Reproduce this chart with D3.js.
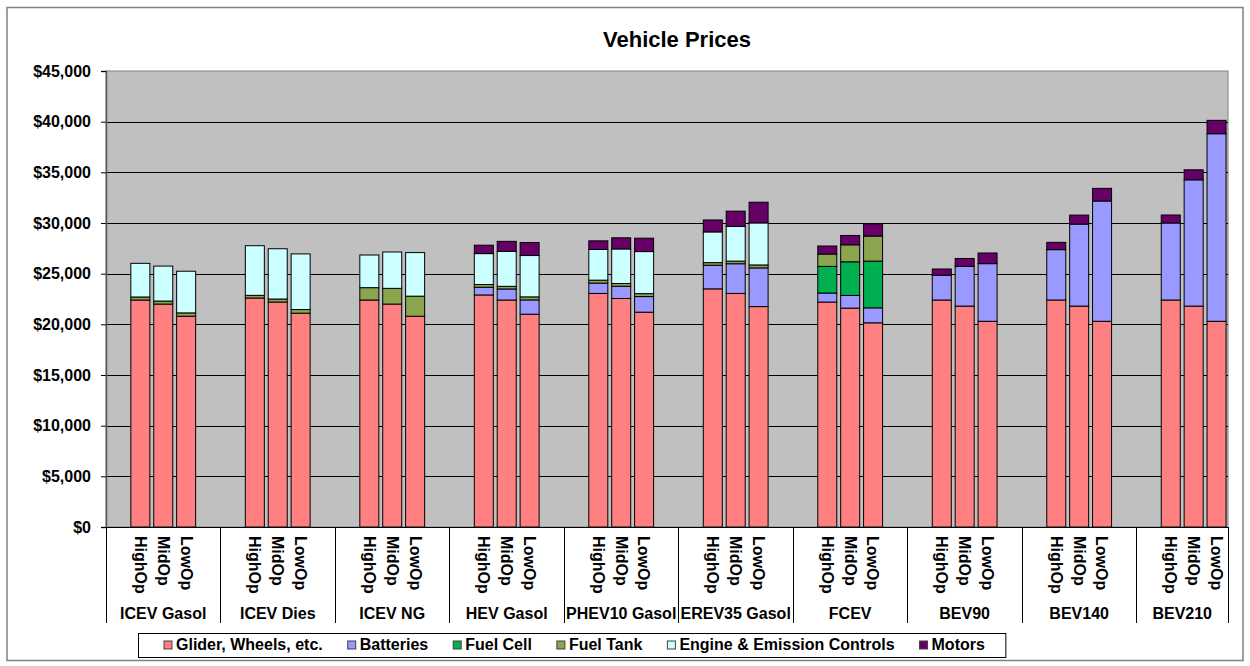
<!DOCTYPE html>
<html>
<head>
<meta charset="utf-8">
<script src="https://cdn.jsdelivr.net/npm/d3@7"></script>
<style>
  body { margin: 0; background: #fff; }
  svg { display: block; font-family: Arial, "Liberation Sans", sans-serif; }
</style>
</head>
<body>
<svg id="chart" width="1250" height="666"></svg>
<script>
// categories
var groups = ["ICEV Gasol", "ICEV Dies", "ICEV NG", "HEV Gasol", "PHEV10 Gasol",
  "EREV35 Gasol", "FCEV", "BEV90", "BEV140", "BEV210"];
var scenarios = ["HighOp", "MidOp", "LowOp"];
var components = ["Glider, Wheels, etc.", "Batteries", "Fuel Cell", "Fuel Tank",
  "Engine & Emission Controls", "Motors"];
var colors = ["#ff8080", "#9999ff", "#00b050", "#8ba54e", "#ccffff", "#660066"];

// values, one per bar (group by group, HighOp / MidOp / LowOp)
var glider = [22400, 22000, 20800, 22600, 22200, 21100, 22400, 22000, 20800,
  22900, 22400, 21000, 23050, 22550, 21200, 23500, 23050, 21750,
  22200, 21600, 20150, 22400, 21800, 20300, 22400, 21800, 20300, 22400, 21800, 20300];
var batteries = [0, 0, 0, 0, 0, 0, 0, 0, 0,
  760, 1090, 1410, 1020, 1210, 1540, 2330, 2930, 3820,
  890, 1250, 1480, 2440, 3920, 5690, 4970, 8090, 11870, 7600, 12460, 18510];
var fuelCell = [0, 0, 0, 0, 0, 0, 0, 0, 0,
  0, 0, 0, 0, 0, 0, 0, 0, 0,
  2630, 3320, 4610, 0, 0, 0, 0, 0, 0, 0, 0, 0];
var fuelTank = [300, 300, 330, 260, 300, 360, 1220, 1550, 1980,
  270, 260, 300, 290, 270, 290, 260, 260, 290,
  1220, 1680, 2470, 0, 0, 0, 0, 0, 0, 0, 0, 0];
var engine = [3320, 3450, 4110, 4900, 4960, 5490, 3220, 3590, 4300,
  3050, 3450, 4080, 3030, 3410, 4150, 3030, 3420, 4150,
  0, 0, 0, 0, 0, 0, 0, 0, 0, 0, 0, 0];
var motors = [0, 0, 0, 0, 0, 0, 0, 0, 0,
  830, 990, 1280, 850, 1100, 1320, 1180, 1510, 2040,
  790, 920, 1210, 620, 780, 1050, 720, 890, 1250, 790, 990, 1320];
var yTicks = [0, 5000, 10000, 15000, 20000, 25000, 30000, 35000, 40000, 45000];

var series = [glider, batteries, fuelCell, fuelTank, engine, motors];

// rows for the stack
var rows = [];
groups.forEach(function (g, gi) {
  scenarios.forEach(function (s, si) {
    var r = { group: g, scenario: s, key: g + "|" + s };
    components.forEach(function (c, ci) { r[c] = series[ci][gi * 3 + si]; });
    rows.push(r);
  });
});

// slots: blank, H, M, L, blank for each group (no trailing blank on the last one)
var slots = [];
groups.forEach(function (g, gi) {
  slots.push("_a" + gi);
  scenarios.forEach(function (s) { slots.push(g + "|" + s); });
  if (gi < groups.length - 1) slots.push("_b" + gi);
});

var plotL = 106, plotR = 1228, plotT = 71, plotB = 527;

var svg = d3.select("#chart");

var x = d3.scaleBand().domain(slots).range([plotL, plotR])
  .paddingInner(0.17).paddingOuter(0.085);
var y = d3.scaleLinear().domain([0, 45000]).range([plotB, plotT]);
var color = d3.scaleOrdinal().domain(components).range(colors);

// chart border
svg.append("rect")
  .attr("x", 7).attr("y", 7.5).attr("width", 1236).attr("height", 653)
  .attr("fill", "#fff").attr("stroke", "#808080").attr("stroke-width", 1.5);

// title
svg.append("text")
  .attr("x", 677).attr("y", 47)
  .attr("text-anchor", "middle")
  .style("font-size", "22px").style("font-weight", "bold")
  .text("Vehicle Prices");

// plot area
svg.append("rect")
  .attr("x", plotL).attr("y", plotT).attr("width", plotR - plotL).attr("height", plotB - plotT)
  .attr("fill", "#c0c0c0").attr("stroke", "#808080").attr("stroke-width", 1);

// gridlines
svg.append("g")
  .selectAll("line")
  .data(yTicks.filter(function (d) { return d > 0 && d < 45000; }))
  .enter().append("line")
    .attr("x1", plotL).attr("x2", plotR)
    .attr("y1", function (d) { return Math.round(y(d)) + 0.5; })
    .attr("y2", function (d) { return Math.round(y(d)) + 0.5; })
    .attr("stroke", "#000").attr("stroke-width", 1);

// stacked bars
var stack = d3.stack().keys(components)(rows);
svg.append("g")
  .selectAll("g")
  .data(stack)
  .enter().append("g")
    .attr("fill", function (d) { return color(d.key); })
  .selectAll("rect")
  .data(function (d) { return d.filter(function (p) { return p[1] > p[0]; }); })
  .enter().append("rect")
    .attr("x", function (d) { return x(d.data.key); })
    .attr("width", x.bandwidth())
    .attr("y", function (d) { return y(d[1]); })
    .attr("height", function (d) { return y(d[0]) - y(d[1]); })
    .attr("stroke", "#000").attr("stroke-width", 1);

// y axis
var yAxis = svg.append("g")
  .attr("transform", "translate(" + plotL + ",0)")
  .call(d3.axisLeft(y).tickValues(yTicks).tickSize(5).tickPadding(10)
    .tickFormat(function (d) { return "$" + d3.format(",")(d); }));
yAxis.select(".domain").attr("stroke", "#595959").attr("stroke-width", 1.5);
yAxis.selectAll("text")
  .style("font-size", "16px").style("font-weight", "bold")
  .style("font-family", "Arial, 'Liberation Sans', sans-serif")
  .attr("fill", "#000");

// x axis line
svg.append("line")
  .attr("x1", plotL).attr("x2", plotR).attr("y1", plotB + 0.5).attr("y2", plotB + 0.5)
  .attr("stroke", "#000").attr("stroke-width", 1);

// group separators
var step = x.step();
var edgeX = d3.range(groups.length + 1).map(function (i) {
  return i === groups.length ? plotR : plotL + step * 5 * i;
});
svg.append("g")
  .selectAll("line")
  .data(edgeX)
  .enter().append("line")
    .attr("x1", function (d) { return Math.round(d) + 0.5; })
    .attr("x2", function (d) { return Math.round(d) + 0.5; })
    .attr("y1", plotB).attr("y2", 623)
    .attr("stroke", "#000").attr("stroke-width", 1);

// scenario labels
svg.append("g")
  .selectAll("text")
  .data(rows)
  .enter().append("text")
    .attr("transform", function (d) {
      return "translate(" + (x(d.key) + x.bandwidth() / 2) + ",536) rotate(90)";
    })
    .attr("dy", "0.35em")
    .style("font-size", "16px").style("font-weight", "bold")
    .text(function (d) { return d.scenario; });

// group labels
svg.append("g")
  .selectAll("text")
  .data(groups)
  .enter().append("text")
    .attr("x", function (d, i) { return (edgeX[i] + edgeX[i + 1]) / 2; })
    .attr("y", 619)
    .attr("text-anchor", "middle")
    .style("font-size", "16px").style("font-weight", "bold")
    .text(function (d) { return d; });

// legend
var legend = svg.append("g");
var legendBox = legend.append("rect")
  .attr("x", 138.5).attr("y", 633.5).attr("height", 24)
  .attr("fill", "#fff").attr("stroke", "#000").attr("stroke-width", 1);
var lx = 164;
components.forEach(function (c) {
  legend.append("rect")
    .attr("x", lx).attr("y", 641).attr("width", 8).attr("height", 8)
    .attr("fill", color(c)).attr("stroke", "#404040").attr("stroke-width", 1);
  var t = legend.append("text")
    .attr("x", lx + 12).attr("y", 650)
    .style("font-size", "16px").style("font-weight", "bold")
    .text(c);
  lx += 12 + t.node().getComputedTextLength() + 25;
});
legendBox.attr("width", lx - 25 + 21 - 138.5);
</script>
</body>
</html>
